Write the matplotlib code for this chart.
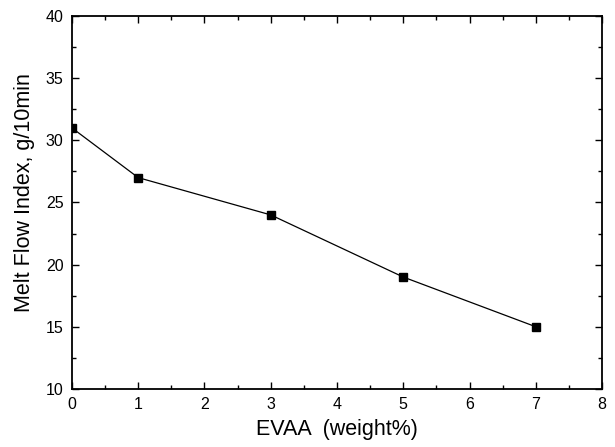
import matplotlib
matplotlib.use("Agg")
import matplotlib.pyplot as plt

plt.rcParams['font.family'] = ['Liberation Sans', 'DejaVu Sans']

# EVAA content vs melt flow index
evaa = [0, 1, 3, 5, 7]
mfi = [31, 27, 24, 19, 15]

fig = plt.figure(figsize=(6.15, 4.47), dpi=100)
ax = fig.add_axes([0.117, 0.130, 0.862, 0.834])

ax.plot(evaa, mfi, color='black', linewidth=0.9, marker='s', markersize=5.8)

ax.set_xlim(0, 8)
ax.set_ylim(10, 40)
ax.set_xticks(range(0, 9))
ax.set_yticks(range(10, 41, 5))
ax.set_xticks([i + 0.5 for i in range(8)], minor=True)
ax.set_yticks([i + 2.5 for i in range(10, 40, 5)], minor=True)
ax.tick_params(which='both', direction='in', top=True, right=True, labelsize=11.5)
ax.tick_params(which='major', length=5, width=1, pad=6)
ax.tick_params(which='minor', length=3, width=1)
for s in ax.spines.values():
    s.set_linewidth(1.3)

ax.set_xlabel('EVAA  (weight%)', fontsize=15.5, labelpad=5)
ax.set_ylabel('Melt Flow Index, g/10min', fontsize=15.5, labelpad=8)
ax.yaxis.label.set_y(0.527)

fig.savefig('out.png', dpi=100)
